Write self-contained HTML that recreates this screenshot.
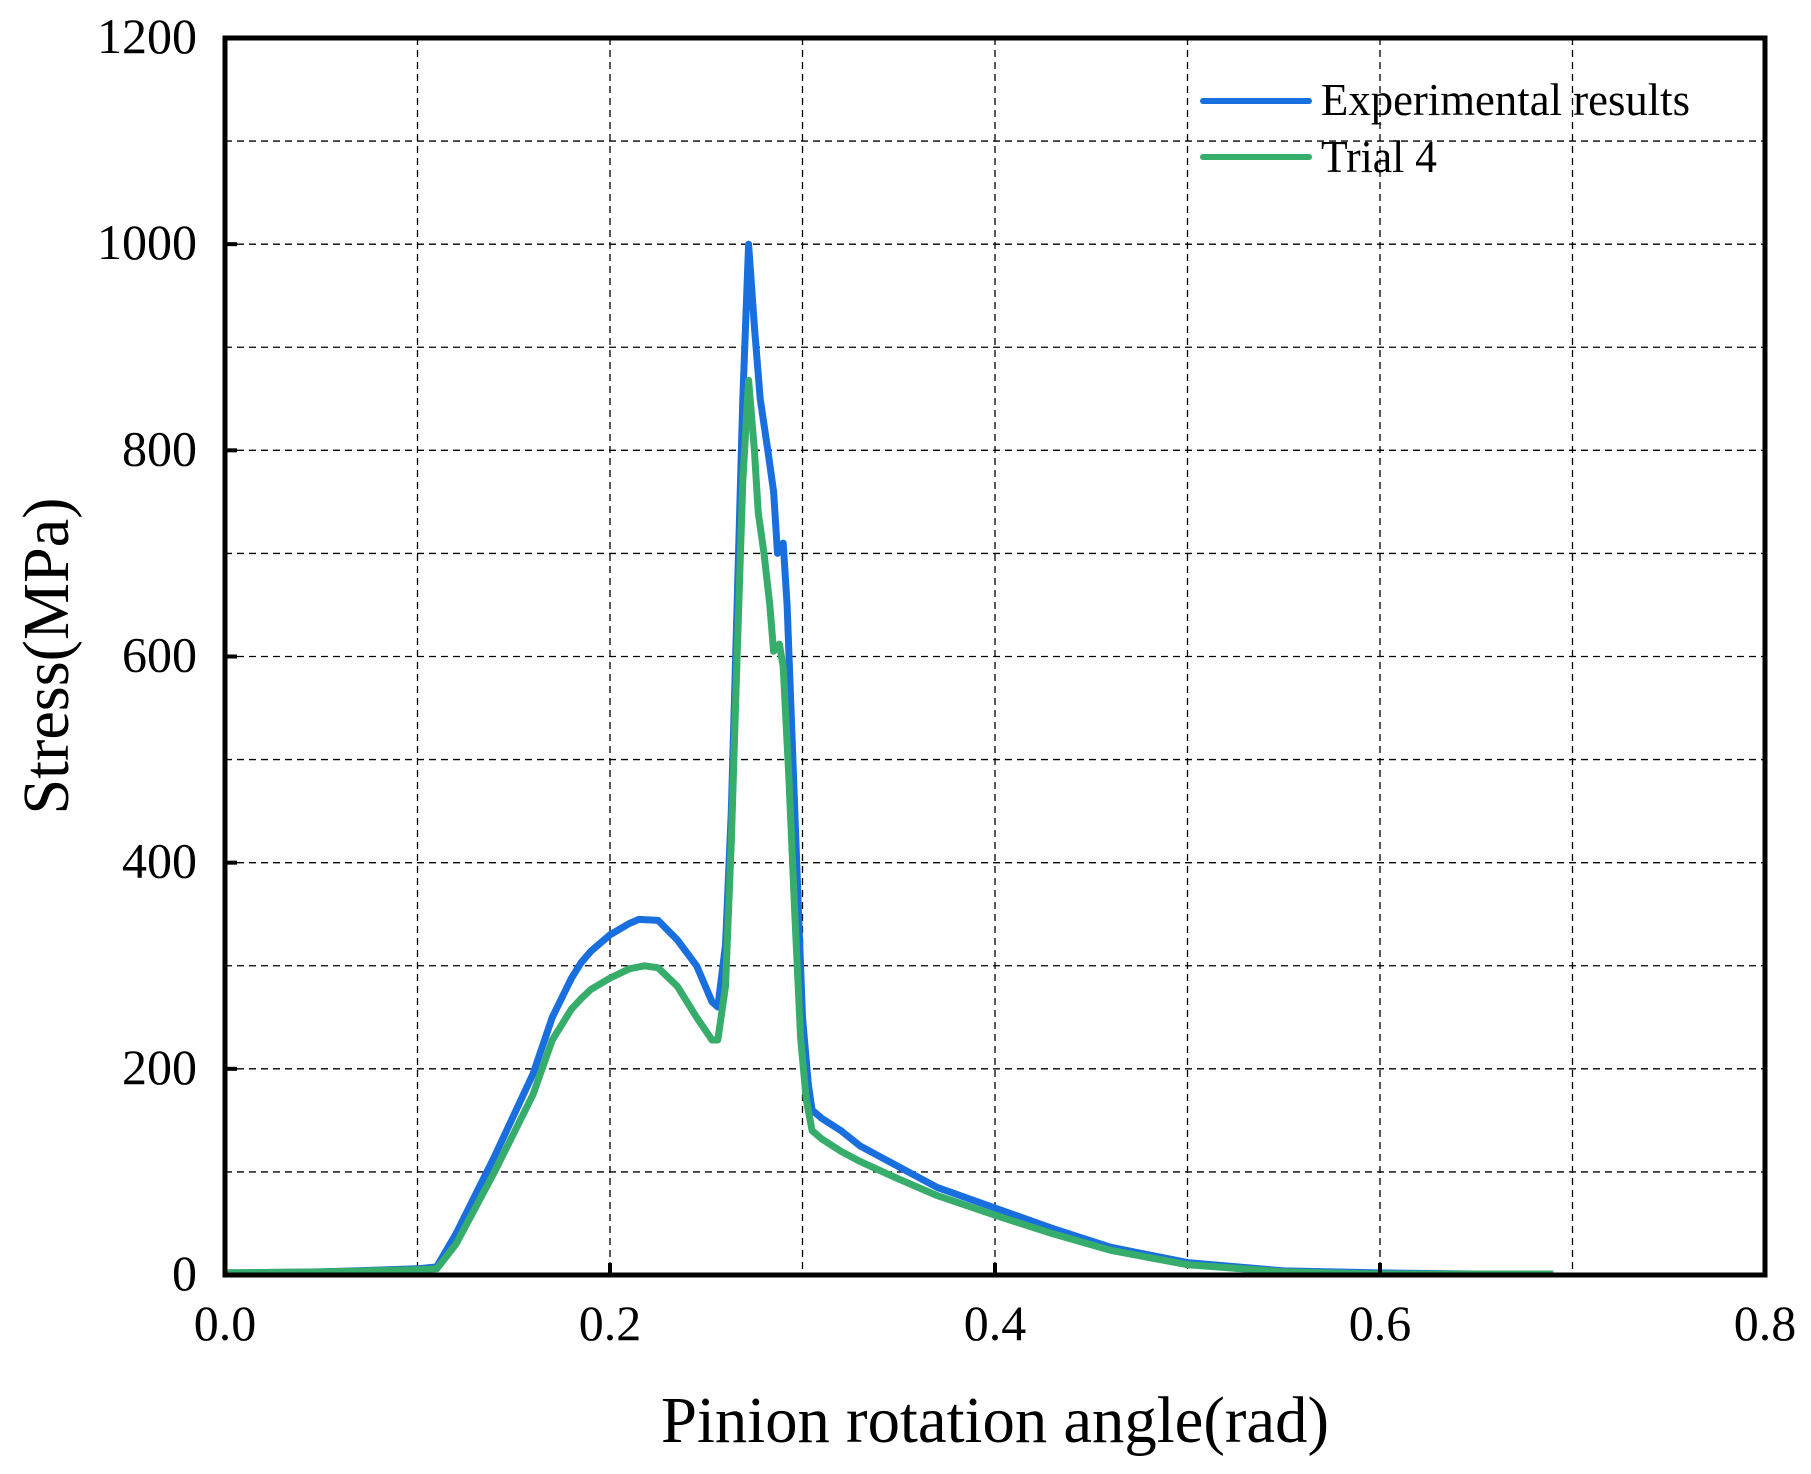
<!DOCTYPE html>
<html><head><meta charset="utf-8"><style>
html,body{margin:0;padding:0;background:#fff;}
svg{display:block;font-family:"Liberation Serif",serif;}
</style></head><body>
<svg id="chart" width="1811" height="1474" viewBox="0 0 1811 1474" xmlns="http://www.w3.org/2000/svg">
<g id="grid"></g>
<g id="series"></g>
<rect x="225" y="38" width="1540" height="1237" fill="none" stroke="#000" stroke-width="5"/>
<g id="ticks"></g>
<text x="995" y="1442" font-size="66" text-anchor="middle" textLength="668" lengthAdjust="spacingAndGlyphs">Pinion rotation angle(rad)</text>
<text transform="translate(68,656) rotate(-90)" font-size="66" text-anchor="middle" textLength="317" lengthAdjust="spacingAndGlyphs">Stress(MPa)</text>
<g>
<line x1="1203" y1="101" x2="1309" y2="101" stroke="#1a6fdf" stroke-width="6" stroke-linecap="round"/>
<text x="1321" y="115" font-size="46" textLength="369" lengthAdjust="spacingAndGlyphs">Experimental results</text>
<line x1="1203" y1="157" x2="1309" y2="157" stroke="#36ad6a" stroke-width="6" stroke-linecap="round"/>
<text x="1321" y="172" font-size="46" textLength="116" lengthAdjust="spacingAndGlyphs">Trial 4</text>
</g>
</svg>
<script>
const xTickLabels = ["0.0","0.2","0.4","0.6","0.8"];
const yTickLabels = ["0","200","400","600","800","1000","1200"];
const expX = [0,0.05,0.1,0.11,0.12,0.14,0.16,0.17,0.18,0.185,0.19,0.2,0.21,0.215,0.225,0.235,0.245,0.253,0.256,0.26,0.263,0.266,0.269,0.272,0.275,0.278,0.282,0.285,0.287,0.289,0.29,0.292,0.295,0.298,0.3,0.303,0.305,0.31,0.32,0.33,0.35,0.37,0.4,0.43,0.46,0.5,0.55,0.6,0.65,0.69];
const expY = [2,3,6,8,40,115,195,250,288,303,314,330,341,345,344,325,300,265,260,320,450,650,850,1000,920,850,800,760,700,705,710,650,500,350,250,185,160,152,140,125,105,85,65,45,27,12,4,2,1,1];
const trialX = [0,0.05,0.1,0.11,0.12,0.14,0.16,0.17,0.18,0.185,0.19,0.2,0.21,0.218,0.225,0.235,0.245,0.253,0.256,0.26,0.263,0.266,0.269,0.272,0.275,0.277,0.28,0.283,0.285,0.288,0.29,0.293,0.296,0.299,0.302,0.305,0.31,0.32,0.33,0.35,0.37,0.4,0.43,0.46,0.5,0.55,0.6,0.65,0.69];
const trialY = [2,3,5,6,30,100,175,228,258,268,277,288,297,300,298,280,250,228,228,280,420,600,770,868,800,740,700,650,605,612,590,480,350,230,170,140,132,120,110,93,77,58,40,24,10,3,1,1,1];

const X0=225,X1=1765,Y0=1275,Y1=38;
function sx(v){return X0+(X1-X0)*v/0.8;}
function sy(v){return Y0-(Y0-Y1)*v/1200;}
const NS="http://www.w3.org/2000/svg";
const grid=document.getElementById('grid');
for(let i=1;i<8;i++){
  const l=document.createElementNS(NS,'line');
  
  
  const x=sx(i*0.1);
  l.setAttribute('x1',x);l.setAttribute('x2',x);l.setAttribute('y1',Y1);l.setAttribute('y2',Y0);
  l.setAttribute('stroke','#000');l.setAttribute('stroke-width','1.3');l.setAttribute('stroke-dasharray','7,5');
  grid.appendChild(l);
}
for(let i=1;i<12;i++){
  const l=document.createElementNS(NS,'line');
  
  
  const y=sy(i*100);
  l.setAttribute('x1',X0);l.setAttribute('x2',X1);l.setAttribute('y1',y);l.setAttribute('y2',y);
  l.setAttribute('stroke','#000');l.setAttribute('stroke-width','1.3');l.setAttribute('stroke-dasharray','7,5');
  grid.appendChild(l);
}
const ticks=document.getElementById('ticks');
xTickLabels.forEach(s=>{
  const v=parseFloat(s);
  const t=document.createElementNS(NS,'text');
  
  
  t.setAttribute('x',sx(v));t.setAttribute('y',1340);t.setAttribute('font-size','50');t.setAttribute('text-anchor','middle');
  t.textContent=s;ticks.appendChild(t);
  const m=document.createElementNS(NS,'line');
  
  
  m.setAttribute('x1',sx(v));m.setAttribute('x2',sx(v));m.setAttribute('y1',Y0);m.setAttribute('y2',Y0-12);
  m.setAttribute('stroke','#000');m.setAttribute('stroke-width','4');ticks.appendChild(m);
});
yTickLabels.forEach(s=>{
  const v=parseFloat(s);
  const t=document.createElementNS(NS,'text');
  
  
  t.setAttribute('x',197);t.setAttribute('y',sy(v)+15);t.setAttribute('font-size','50');t.setAttribute('text-anchor','end');
  t.textContent=s;ticks.appendChild(t);
  const m=document.createElementNS(NS,'line');
  
  
  m.setAttribute('x1',X0);m.setAttribute('x2',X0+12);m.setAttribute('y1',sy(v));m.setAttribute('y2',sy(v));
  m.setAttribute('stroke','#000');m.setAttribute('stroke-width','4');ticks.appendChild(m);
});
const series=document.getElementById('series');
function drawLine(xs,ys,color,name){
  const p=document.createElementNS(NS,'polyline');
  
  
  p.setAttribute('points',xs.map((x,i)=>sx(x).toFixed(1)+','+sy(ys[i]).toFixed(1)).join(' '));
  p.setAttribute('fill','none');p.setAttribute('stroke',color);p.setAttribute('stroke-width','7');p.setAttribute('stroke-linejoin','round');
  series.appendChild(p);
}
drawLine(expX,expY,'#1a6fdf','experimental-results-line');
drawLine(trialX,trialY,'#36ad6a','trial-4-line');
</script>
</body></html>
